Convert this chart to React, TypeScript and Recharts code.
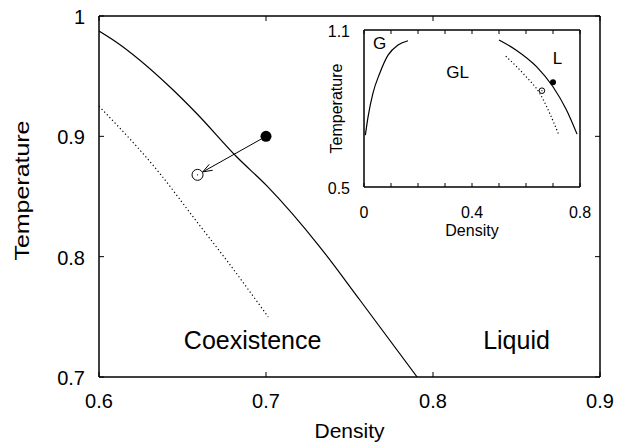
import React from 'react';
import { ComposedChart, Line, XAxis, YAxis, Scatter, ReferenceDot, ReferenceLine } from 'recharts';

// main panel
const mainXTicks = [0.6, 0.7, 0.8, 0.9];
const mainXLabels = ['0.6', '0.7', '0.8', '0.9'];
const mainYTicks = [0.7, 0.8, 0.9, 1];
const mainYLabels = ['0.7', '0.8', '0.9', '1'];

const liquidBranch = [
  { d: 0.6, t: 0.9875 },
  { d: 0.6096, t: 0.979 },
  { d: 0.6425, t: 0.941 },
  { d: 0.6585, t: 0.919 },
  { d: 0.6824, t: 0.883 },
  { d: 0.7004, t: 0.859 },
  { d: 0.7323, t: 0.808 },
  { d: 0.7562, t: 0.764 },
  { d: 0.7905, t: 0.7 },
];

const spinodalBranch = [
  { d: 0.6, t: 0.925 },
  { d: 0.6365, t: 0.869 },
  { d: 0.6564, t: 0.833 },
  { d: 0.6764, t: 0.797 },
  { d: 0.7013, t: 0.75 },
];

const startState = [{ d: 0.7, t: 0.9 }];
const endState = [{ d: 0.659, t: 0.868 }];

// inset
const insetXTicks = [0, 0.1, 0.2, 0.3, 0.4, 0.5, 0.6, 0.7, 0.8];
const insetXLabelAt = [0, 0.4, 0.8];
const insetXLabels = ['0', '0.4', '0.8'];
const insetYTicks = [0.5, 1.1];
const insetYLabels = ['0.5', '1.1'];

const gasBranchFull = [
  { d: 0.005, t: 0.698 },
  { d: 0.015, t: 0.768 },
  { d: 0.033, t: 0.858 },
  { d: 0.058, t: 0.934 },
  { d: 0.089, t: 1.004 },
  { d: 0.126, t: 1.043 },
  { d: 0.163, t: 1.059 },
];

const liquidBranchFull = [
  { d: 0.5, t: 1.062 },
  { d: 0.564, t: 1.023 },
  { d: 0.639, t: 0.96 },
  { d: 0.7, t: 0.883 },
  { d: 0.75, t: 0.794 },
  { d: 0.789, t: 0.702 },
];

const spinodalFull = [
  { d: 0.525, t: 1.0 },
  { d: 0.601, t: 0.921 },
  { d: 0.651, t: 0.858 },
  { d: 0.688, t: 0.781 },
  { d: 0.722, t: 0.698 },
];

const FONT = '"Liberation Sans", Arial, Helvetica, sans-serif';
const AXIS = { stroke: '#000', strokeWidth: 1.5 };

const pick = (ticks: number[], labels: string[], v: number) => {
  const i = ticks.findIndex((t) => Math.abs(t - v) < 1e-9);
  return i >= 0 ? labels[i] : '';
};

const FilledDot = (r: number) => (p: any) => <circle cx={p.cx} cy={p.cy} r={r} fill="#000" />;
const OpenDot = (r: number) => (p: any) => (
  <g>
    <circle cx={p.cx} cy={p.cy} r={r} fill="#fff" stroke="#000" strokeWidth={1} />
    <circle cx={p.cx} cy={p.cy} r={0.6} fill="#000" />
  </g>
);

const Arrow = (p: any) => {
  const { x1, y1, x2, y2 } = p;
  const dx = x2 - x1;
  const dy = y2 - y1;
  const len = Math.sqrt(dx * dx + dy * dy) || 1;
  const ux = dx / len;
  const uy = dy / len;
  const tx = x2 - ux * 6;
  const ty = y2 - uy * 6;
  const head = 10;
  const a = (20 * Math.PI) / 180;
  const rot = (c: number, s: number) => [ux * c - uy * s, ux * s + uy * c];
  const [ax, ay] = rot(Math.cos(a), Math.sin(a));
  const [bx, by] = rot(Math.cos(-a), Math.sin(-a));
  return (
    <g stroke="#000" strokeWidth={1} fill="none">
      <line x1={x1} y1={y1} x2={tx} y2={ty} />
      <line x1={tx} y1={ty} x2={tx - ax * head} y2={ty - ay * head} />
      <line x1={tx} y1={ty} x2={tx - bx * head} y2={ty - by * head} />
    </g>
  );
};

function MainChart() {
  return (
    <ComposedChart width={629} height={443} margin={{ top: 0, right: 0, bottom: 0, left: 0 }}>
      <XAxis
        xAxisId="b"
        type="number"
        dataKey="d"
        domain={[0.6, 0.9]}
        ticks={mainXTicks}
        interval={0}
        allowDataOverflow
        height={66}
        axisLine={AXIS}
        tickLine={false}
        tickSize={0}
        tickMargin={0}
        tick={(p: any) => (
          <g>
            <line x1={p.x} y1={p.y} x2={p.x} y2={p.y - 5} stroke="#000" strokeWidth={1} />
            <text x={p.x} y={p.y + 31} textAnchor="middle" fontSize={20} fill="#000">
              {pick(mainXTicks, mainXLabels, p.payload.value)}
            </text>
          </g>
        )}
        label={{
          content: (lp: any) => {
            const vb = lp.viewBox;
            return (
              <text x={vb.x + vb.width / 2} y={vb.y + 61} textAnchor="middle" fontSize={21} fill="#000">
                Density
              </text>
            );
          },
        }}
      />
      <XAxis
        xAxisId="t"
        orientation="top"
        type="number"
        dataKey="d"
        domain={[0.6, 0.9]}
        ticks={mainXTicks}
        interval={0}
        allowDataOverflow
        height={16}
        axisLine={AXIS}
        tickLine={false}
        tickSize={0}
        tickMargin={0}
        tick={(p: any) => <line x1={p.x} y1={p.y} x2={p.x} y2={p.y + 5} stroke="#000" strokeWidth={1} />}
      />
      <YAxis
        yAxisId="l"
        type="number"
        domain={[0.7, 1]}
        ticks={mainYTicks}
        interval={0}
        allowDataOverflow
        width={99}
        axisLine={AXIS}
        tickLine={false}
        tickSize={0}
        tickMargin={0}
        tick={(p: any) => (
          <g>
            <line x1={p.x} y1={p.y} x2={p.x + 5} y2={p.y} stroke="#000" strokeWidth={1} />
            <text x={p.x - 14} y={p.y + 8} textAnchor="end" fontSize={20} fill="#000">
              {pick(mainYTicks, mainYLabels, p.payload.value)}
            </text>
          </g>
        )}
        label={{
          content: (lp: any) => {
            const vb = lp.viewBox;
            const cx = vb.x + 29;
            const cy = vb.y + vb.height / 2 - 6;
            return (
              <text x={cx} y={cy} transform={`rotate(-90, ${cx}, ${cy})`} textAnchor="middle" fontSize={20}
                textLength={140} lengthAdjust="spacingAndGlyphs" fill="#000">
                Temperature
              </text>
            );
          },
        }}
      />
      <YAxis
        yAxisId="r"
        orientation="right"
        type="number"
        domain={[0.7, 1]}
        ticks={mainYTicks}
        interval={0}
        allowDataOverflow
        width={29}
        axisLine={AXIS}
        tickLine={false}
        tickSize={0}
        tickMargin={0}
        tick={(p: any) => <line x1={p.x} y1={p.y} x2={p.x - 5} y2={p.y} stroke="#000" strokeWidth={1} />}
      />
      <Line xAxisId="b" yAxisId="l" data={liquidBranch} dataKey="t" type="monotone" stroke="#000" strokeWidth={1.2} dot={false} isAnimationActive={false} />
      <Line xAxisId="b" yAxisId="l" data={spinodalBranch} dataKey="t" type="monotone" stroke="#000" strokeWidth={1.2} strokeDasharray="1.2 2.6" dot={false} isAnimationActive={false} />
      <ReferenceLine
        xAxisId="b"
        yAxisId="l"
        segment={[
          { x: startState[0].d, y: startState[0].t },
          { x: endState[0].d, y: endState[0].t },
        ]}
        shape={Arrow}
      />
      <Scatter xAxisId="b" yAxisId="l" data={startState} dataKey="t" shape={FilledDot(5.5)} isAnimationActive={false} />
      <Scatter xAxisId="b" yAxisId="l" data={endState} dataKey="t" shape={OpenDot(5.5)} isAnimationActive={false} />
      <ReferenceDot xAxisId="b" yAxisId="l" x={0.692} y={0.731} r={0} fill="none" stroke="none"
        label={{ value: 'Coexistence', position: 'center', fontSize: 25, fill: '#000' }} />
      <ReferenceDot xAxisId="b" yAxisId="l" x={0.85} y={0.731} r={0} fill="none" stroke="none"
        label={{ value: 'Liquid', position: 'center', fontSize: 25, fill: '#000' }} />
    </ComposedChart>
  );
}

function InsetChart() {
  return (
    <ComposedChart width={300} height={250} margin={{ top: 0, right: 0, bottom: 0, left: 0 }}>
      <XAxis
        xAxisId="b"
        type="number"
        dataKey="d"
        domain={[0, 0.8]}
        ticks={insetXTicks}
        interval={0}
        allowDataOverflow
        height={63}
        axisLine={AXIS}
        tickLine={false}
        tickSize={0}
        tickMargin={0}
        tick={(p: any) => (
          <g>
            <line x1={p.x} y1={p.y} x2={p.x} y2={p.y - 4} stroke="#000" strokeWidth={1} />
            <text x={p.x} y={p.y + 31} textAnchor="middle" fontSize={16} fill="#000">
              {pick(insetXLabelAt, insetXLabels, p.payload.value)}
            </text>
          </g>
        )}
        label={{
          content: (lp: any) => {
            const vb = lp.viewBox;
            return (
              <text x={vb.x + vb.width / 2} y={vb.y + 49} textAnchor="middle" fontSize={16} fill="#000">
                Density
              </text>
            );
          },
        }}
      />
      <XAxis
        xAxisId="t"
        orientation="top"
        type="number"
        dataKey="d"
        domain={[0, 0.8]}
        ticks={insetXTicks}
        interval={0}
        allowDataOverflow
        height={30}
        axisLine={AXIS}
        tickLine={false}
        tickSize={0}
        tickMargin={0}
        tick={(p: any) => <line x1={p.x} y1={p.y} x2={p.x} y2={p.y + 4} stroke="#000" strokeWidth={1} />}
      />
      <YAxis
        yAxisId="l"
        type="number"
        domain={[0.5, 1.1]}
        ticks={insetYTicks}
        interval={0}
        allowDataOverflow
        width={64}
        axisLine={AXIS}
        tickLine={false}
        tickSize={0}
        tickMargin={0}
        tick={(p: any) => (
          <text x={p.x - 14} y={p.y + 7} textAnchor="end" fontSize={16} fill="#000">
            {pick(insetYTicks, insetYLabels, p.payload.value)}
          </text>
        )}
        label={{
          content: (lp: any) => {
            const vb = lp.viewBox;
            const cx = vb.x + 42;
            const cy = vb.y + vb.height / 2;
            return (
              <text x={cx} y={cy} transform={`rotate(-90, ${cx}, ${cy})`} textAnchor="middle" fontSize={16} fill="#000">
                Temperature
              </text>
            );
          },
        }}
      />
      <YAxis
        yAxisId="r"
        orientation="right"
        type="number"
        domain={[0.5, 1.1]}
        ticks={insetYTicks}
        allowDataOverflow
        width={20}
        axisLine={AXIS}
        tickLine={false}
        tick={false}
      />
      <Line xAxisId="b" yAxisId="l" data={gasBranchFull} dataKey="t" type="monotone" stroke="#000" strokeWidth={1.2} dot={false} isAnimationActive={false} />
      <Line xAxisId="b" yAxisId="l" data={liquidBranchFull} dataKey="t" type="monotone" stroke="#000" strokeWidth={1.2} dot={false} isAnimationActive={false} />
      <Line xAxisId="b" yAxisId="l" data={spinodalFull} dataKey="t" type="monotone" stroke="#000" strokeWidth={1.2} strokeDasharray="1.2 2.4" dot={false} isAnimationActive={false} />
      <Scatter xAxisId="b" yAxisId="l" data={startState} dataKey="t" shape={FilledDot(3)} isAnimationActive={false} />
      <Scatter xAxisId="b" yAxisId="l" data={endState} dataKey="t" shape={OpenDot(2.8)} isAnimationActive={false} />
      <ReferenceDot xAxisId="b" yAxisId="l" x={0.058} y={1.05} r={0} fill="none" stroke="none"
        label={{ value: 'G', position: 'center', fontSize: 17, fill: '#000' }} />
      <ReferenceDot xAxisId="b" yAxisId="l" x={0.347} y={0.94} r={0} fill="none" stroke="none"
        label={{ value: 'GL', position: 'center', fontSize: 17, fill: '#000' }} />
      <ReferenceDot xAxisId="b" yAxisId="l" x={0.717} y={0.993} r={0} fill="none" stroke="none"
        label={{ value: 'L', position: 'center', fontSize: 17, fill: '#000' }} />
    </ComposedChart>
  );
}

export default function App() {
  return (
    <div style={{ position: 'absolute', left: 0, top: 0, width: 629, height: 443, background: '#fff', fontFamily: FONT }}>
      <div style={{ position: 'absolute', left: 0, top: 0 }}>
        <MainChart />
      </div>
      <div style={{ position: 'absolute', left: 300, top: 0 }}>
        <InsetChart />
      </div>
    </div>
  );
}
